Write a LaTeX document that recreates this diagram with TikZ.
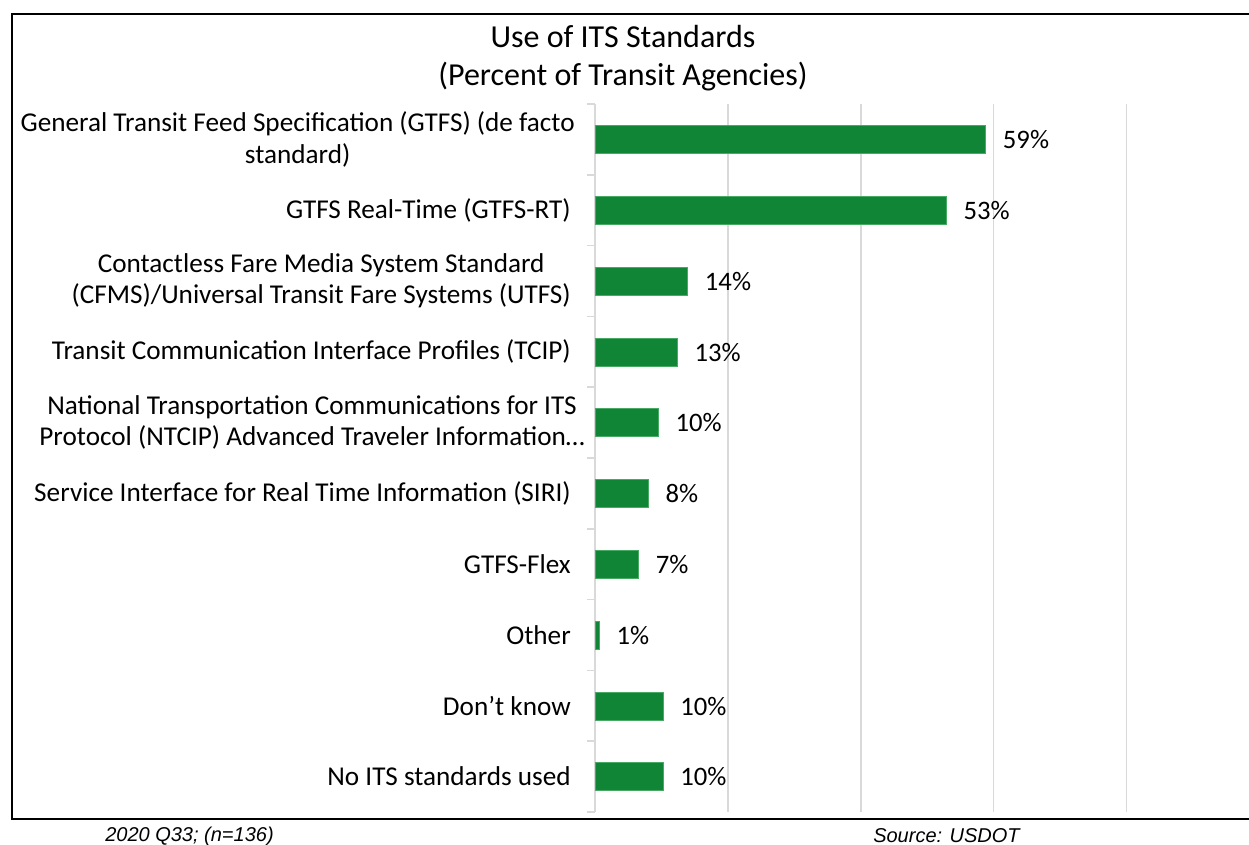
\documentclass[tikz,border=0pt]{standalone}
\usepackage{fontspec}
\setmainfont{Carlito}
\newfontfamily\arialfont{Liberation Sans}
\definecolor{barg}{RGB}{16,133,54}
\definecolor{barline}{RGB}{70,170,100}
\definecolor{gridc}{RGB}{217,217,217}
\begin{document}
\begin{tikzpicture}[x=0.75pt,y=-0.75pt,
  cat/.style={anchor=east,align=center,inner sep=0pt,font=\fontsize{20.4}{23.5}\selectfont},
  val/.style={anchor=west,inner sep=0pt,font=\fontsize{20}{23.5}\selectfont},
  bar/.style={fill=barg,draw=barline,line width=0.4pt},
  grid/.style={draw=gridc,line width=1.1pt},
  foot/.style={inner sep=0pt,font=\arialfont\itshape\fontsize{15}{18}\selectfont}]
\useasboundingbox (0,0) rectangle (1249,845);
\fill[white] (0,0) rectangle (1249,845);
% frame
\draw[line width=1.5pt] (1249,14) -- (12,14) -- (12,819) -- (1249,819);
% title
\node[align=center,inner sep=0pt,font=\fontsize{24}{28}\selectfont] (title) at (623,58) {Use of ITS Standards\\(Percent of Transit Agencies)};
% gridlines
\foreach \g in {1,2,3,4} {\draw[grid] ({595+\g*132.9},104) -- ({595+\g*132.9},812);}
% axis and ticks
\draw[grid] (595,104) -- (595,812);
\foreach \i in {0,...,10} {\draw[grid] (587,{104+\i*70.8}) -- (595,{104+\i*70.8});}
% bars (end x in px)
\foreach \v/\e/\i in {59/985.7/0,53/946.3/1,14/687.7/2,13/677.3/3,10/658.3/4,8/648.3/5,7/638.7/6,1/599.3/7,10/663/8,10/663/9} {
  \path[bar] (595.5,{139.4+\i*70.8-14}) rectangle (\e,{139.4+\i*70.8+14});
  \node[val] (v\i) at ({\e+17},{139.8+\i*70.8}) {\v\%};
}
% category labels
\node[cat] (c0) at (575,139.4) {General Transit Feed Specification (GTFS) (de facto\\standard)};
\node[cat] (c1) at (571,210.2) {GTFS Real-Time (GTFS-RT)};
\node[cat] (c2) at (571,281.0) {Contactless Fare Media System Standard\\(CFMS)/Universal Transit Fare Systems (UTFS)};
\node[cat] (c3) at (571,351.8) {Transit Communication Interface Profiles (TCIP)};
\node[cat] (c4) at (585,422.6) {National Transportation Communications for ITS\\Protocol (NTCIP) Advanced Traveler Information…};
\node[cat] (c5) at (571,493.4) {Service Interface for Real Time Information (SIRI)};
\node[cat] (c6) at (571,564.2) {GTFS-Flex};
\node[cat] (c7) at (571,635.0) {Other};
\node[cat] (c8) at (571,705.8) {Don’t know};
\node[cat] (c9) at (571,776.6) {No ITS standards used};
% footer
\node[foot,anchor=west] (f1) at (105,836) {2020 Q33; (n=136)};
\node[foot,anchor=west] (f2) at (873,836) {Source: USDOT};
\end{tikzpicture}
\end{document}
